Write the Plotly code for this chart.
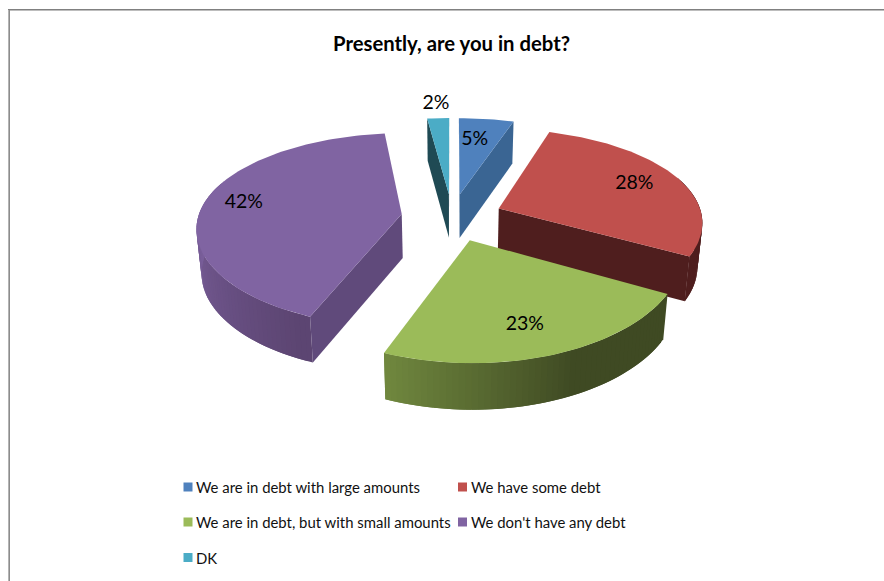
import numpy as np
import plotly.graph_objects as go

# Survey results
TITLE = "Presently, are you in debt?"
CATEGORIES = [
    "We are in debt with large amounts",
    "We have some debt",
    "We are in debt, but with small amounts",
    "We don't have any debt",
    "DK",
]
SHARES = [5, 28, 23, 42, 2]

# Slice styling
TOP_COLORS = ["#4F81BD", "#C0504D", "#9BBB59", "#8064A2", "#4BACC6"]
WALL_COLORS = ["#3A6593", "#4F1E1E", "#3F4A23", "#604A7B", "#1F4A54"]
# (colour at first angle, colour at second angle, first angle, second angle)
RIM_SHADES = [
    ("#3A6593", "#3A6593", 0, 360),
    ("#4F1E1E", "#4F1E1E", 0, 360),
    ("#3F4A23", "#71893F", 155, 202),
    ("#5C4572", "#7A5F9B", 205, 270),
    ("#1F4A54", "#1F4A54", 0, 360),
]
# Data label placement: degrees off the slice middle, radius fraction
LABEL_SPOTS = [(-2.1, 0.72), (-1.5, 0.77), (2.0, 0.75), (2.8, 0.81), (0.0, 1.25)]
LABEL_DROP = 2

# Projection of the tilted, exploded pie onto the page
WIDTH, HEIGHT = 884, 581
CX, CY = 452, 217
RX, RY = 203.5, 95
PERSPECTIVE = 0.16
EXPLODE = 0.25
DEPTH = 44
TAPER = 0.98
FONT = "Lato, Carlito, Calibri, sans-serif"


def project(gx, gy, lower=False):
    """Ground-plane coordinates to page pixels, optionally on the lower face."""
    gx, gy = np.asarray(gx, float), np.asarray(gy, float)
    s = 1 / (1 + PERSPECTIVE * gy)
    x = RX * gx * s ** 0.8
    y = CY - RY * gy * s
    if lower:
        return CX + x * TAPER, y + DEPTH * s ** 0.25
    return CX + x, y


def hex_mix(a, b, t):
    ca = np.array([int(a[i:i + 2], 16) for i in (1, 3, 5)])
    cb = np.array([int(b[i:i + 2], 16) for i in (1, 3, 5)])
    r, g, bl = (ca + (cb - ca) * t).round().astype(int)
    return f"rgb({r},{g},{bl})"


def polygon(xs, ys, color):
    return go.Scatter(
        x=list(xs) + [xs[0]], y=list(ys) + [ys[0]], mode="lines", fill="toself",
        fillcolor=color, line=dict(color=color, width=0),
        hoverinfo="skip", showlegend=False,
    )


def wall_faces_viewer(apex, outer, inner):
    """True when a radial wall hangs below the edge, away from the top face."""
    dx, dy = outer[0] - apex[0], outer[1] - apex[1]
    mx, my = inner[0] - apex[0], inner[1] - apex[1]
    return dx * (dx * my - dy * mx) < 0


fig = go.Figure()
edges = np.concatenate([[0], np.cumsum(SHARES)]) / sum(SHARES) * 360
mids = (edges[:-1] + edges[1:]) / 2
apexes = [(EXPLODE * np.sin(np.radians(m)), EXPLODE * np.cos(np.radians(m))) for m in mids]

# Pie slices, back ones first so the nearer ones overlap them
for i in [4, 0, 1, 3, 2]:
    a0, a1 = edges[i], edges[i + 1]
    ax, ay = apexes[i]
    theta = np.linspace(a0, a1, max(6, int((a1 - a0) / 1.5)))
    gx = ax + np.sin(np.radians(theta))
    gy = ay + np.cos(np.radians(theta))
    tx, ty = project(gx, gy)
    bx, by = project(gx, gy, lower=True)
    ptx, pty = (float(v) for v in project(ax, ay))
    pbx, pby = (float(v) for v in project(ax, ay, lower=True))

    # Outer rim on the near side, strips overlapping so no seams appear
    c0, c1, s0, s1 = RIM_SHADES[i]
    n = len(theta)
    for k in range(n - 1):
        mid_angle = (theta[k] + theta[k + 1]) / 2
        if np.cos(np.radians(mid_angle)) > 0.35:
            continue
        t = np.clip((mid_angle - s0) / (s1 - s0), 0, 1)
        j = min(k + 2, n - 1)
        fig.add_trace(polygon(
            [tx[k], tx[j], bx[j], bx[k]],
            [ty[k], ty[j], by[j], by[k]],
            hex_mix(c0, c1, t),
        ))

    # Radial walls that face the viewer
    inner = (float(tx[n // 2]), float(ty[n // 2]))
    for e in (0, -1):
        if wall_faces_viewer((ptx, pty), (tx[e], ty[e]), inner):
            fig.add_trace(polygon(
                [ptx, tx[e], bx[e], pbx],
                [pty, ty[e], by[e], pby],
                WALL_COLORS[i],
            ))

    # Top face
    fig.add_trace(polygon([ptx] + list(tx), [pty] + list(ty), TOP_COLORS[i]))

# Percentage labels
lx, ly, ltext = [], [], []
for i, share in enumerate(SHARES):
    off, frac = LABEL_SPOTS[i]
    ang = np.radians(mids[i] + off)
    px, py = project(apexes[i][0] + frac * np.sin(ang), apexes[i][1] + frac * np.cos(ang))
    lx.append(float(px))
    ly.append(float(py) + LABEL_DROP)
    ltext.append(f"{share}%")
fig.add_trace(go.Scatter(
    x=lx, y=ly, text=ltext, mode="text", textposition="middle center",
    textfont=dict(family=FONT, size=19.5, color="#000000"),
    hoverinfo="skip", showlegend=False,
))

# Legend block: three rows, two columns
LEGEND_X = [183.5, 183.5 + 274.5]
LEGEND_Y = [487, 522, 557.5]
LEGEND_SLOTS = [(0, 0), (1, 0), (0, 1), (1, 1), (0, 2)]
for i, name in enumerate(CATEGORIES):
    c, r = LEGEND_SLOTS[i]
    fig.add_trace(go.Scatter(
        x=[LEGEND_X[c] + 4.5], y=[LEGEND_Y[r]], mode="markers",
        marker=dict(symbol="square", size=9, color=TOP_COLORS[i], line=dict(width=0)),
        hoverinfo="skip", showlegend=False,
    ))
    fig.add_annotation(
        x=LEGEND_X[c] + 10.5, y=LEGEND_Y[r], text=name, showarrow=False,
        xanchor="left", yanchor="middle",
        font=dict(family=FONT, size=14.9, color="#111111"),
    )

# Chart frame, open on the right and bottom
frame = [
    dict(x0=8.5, x1=8.5, y0=9, y1=HEIGHT, color="#B4B4B4"),
    dict(x0=9.5, x1=9.5, y0=9, y1=HEIGHT, color="#8C8C8C"),
    dict(x0=8, x1=WIDTH, y0=9.5, y1=9.5, color="#808080"),
    dict(x0=10, x1=WIDTH, y0=10.5, y1=10.5, color="#BDBDBD"),
]
for f in frame:
    fig.add_shape(type="line", x0=f["x0"], x1=f["x1"], y0=f["y0"], y1=f["y1"],
                  line=dict(color=f["color"], width=1), layer="below")

fig.add_annotation(
    x=451.5, y=43, text=f"<b>{TITLE}</b>", showarrow=False,
    xanchor="center", yanchor="middle",
    font=dict(family=FONT, size=20.3, color="#000000"),
)

fig.update_layout(
    width=WIDTH, height=HEIGHT,
    margin=dict(l=0, r=0, t=0, b=0),
    paper_bgcolor="#FFFFFF", plot_bgcolor="#FFFFFF",
    xaxis=dict(range=[0, WIDTH], visible=False, fixedrange=True),
    yaxis=dict(range=[HEIGHT, 0], visible=False, fixedrange=True),
    showlegend=False,
)
fig.write_html("out.html", config={"displayModeBar": False})
